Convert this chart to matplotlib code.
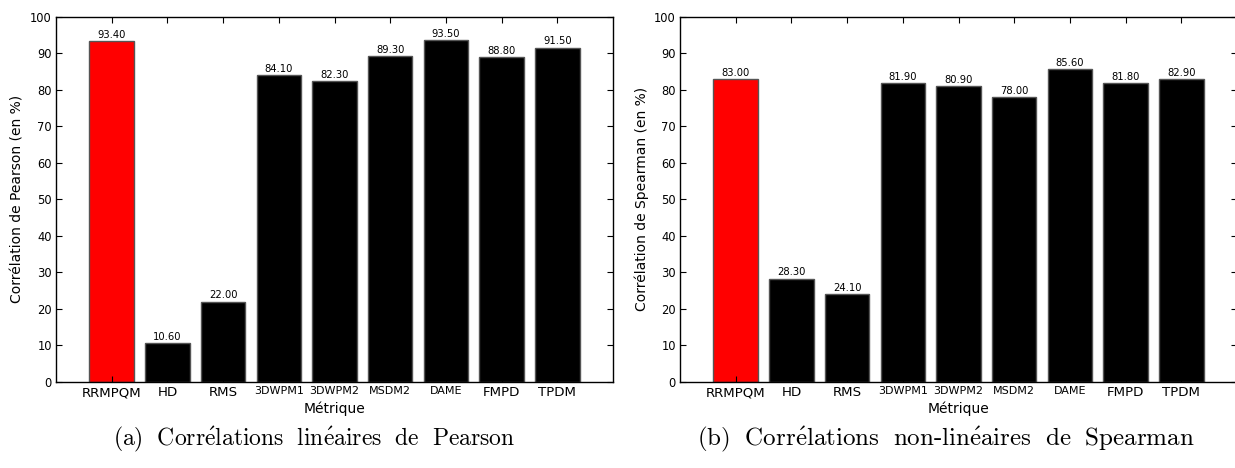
import matplotlib
matplotlib.use("Agg")
import matplotlib.pyplot as plt

metrics = ["RRMPQM", "HD", "RMS", "3DWPM1", "3DWPM2", "MSDM2", "DAME", "FMPD", "TPDM"]
label_sizes = [9.6, 9.6, 9.6, 8, 8, 8, 8, 9.6, 9.6]
pearson = [93.40, 10.60, 22.00, 84.10, 82.30, 89.30, 93.50, 88.80, 91.50]
spearman = [83.00, 28.30, 24.10, 81.90, 80.90, 78.00, 85.60, 81.80, 82.90]
bar_colors = ["red"] + ["black"] * 8
ylabels = ["Corrélation de Pearson (en %)", "Corrélation de Spearman (en %)"]
captions = [r"$\mathrm{(a)\ \ Corr\acute{e}lations\ \ lin\acute{e}aires\ \ de\ \ Pearson}$",
            r"$\mathrm{(b)\ \ Corr\acute{e}lations\ \ non\text{-}lin\acute{e}aires\ \ de\ \ Spearman}$"]

plt.rcParams["font.family"] = ["DejaVu Sans"]
plt.rcParams["mathtext.fontset"] = "cm"

W, H = 1235, 468
fig = plt.figure(figsize=(W / 100, H / 100), dpi=100)

positions = [[56 / W, 86 / H, 557 / W, 365.5 / H], [680 / W, 86 / H, 557 / W, 365.5 / H]]
caption_x = [314 / W, 946 / W]
caption_sizes = [17, 18]

for k, (vals, ylab) in enumerate([(pearson, ylabels[0]), (spearman, ylabels[1])]):
    ax = fig.add_axes(positions[k])
    xs = list(range(1, len(metrics) + 1))
    ax.bar(xs, vals, width=0.8, color=bar_colors, edgecolor="#555555", linewidth=1)
    for x, v in zip(xs, vals):
        ax.text(x, v + 0.3, "%.2f" % v, ha="center", va="bottom", fontsize=7.2)
    ax.set_xlim(0, 10)
    ax.set_ylim(0, 100)
    ax.set_yticks(range(0, 101, 10))
    ax.set_xticks(xs)
    ax.set_xticklabels(metrics)
    for lbl, s in zip(ax.get_xticklabels(), label_sizes):
        lbl.set_fontsize(s)
    ax.tick_params(axis="y", labelsize=8.3)
    ax.tick_params(direction="in", top=True, right=True, length=4, width=0.8, pad=3)
    for sp in ax.spines.values():
        sp.set_linewidth(1)
    ax.set_ylabel(ylab, fontsize=10, labelpad=4)
    ax.set_xlabel("Métrique", fontsize=10, labelpad=2)
    fig.text(caption_x[k], 29 / H, captions[k], ha="center", va="center", fontsize=caption_sizes[k])

fig.savefig("out.png", dpi=100)
